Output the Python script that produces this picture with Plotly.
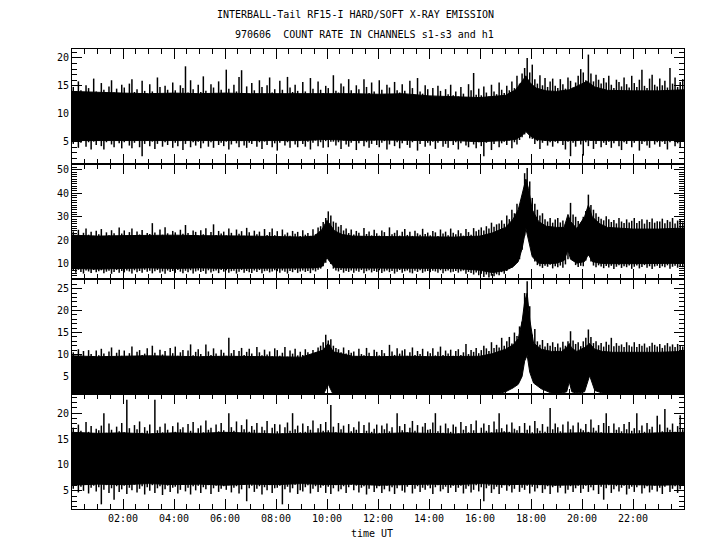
import numpy as np
import plotly.graph_objects as go

# ---------------- data (hours UT, count rates) ----------------
# Spike (local max / local min) readings on a 0.1 h grid, one row per hour
spike_t = [round(0.05 + 0.1 * k, 2) for k in range(240)]

# ---- Panel 1 : solid body (dense lower / upper edge)
p1_t = [0,1,2,3,4,5,6,7,8,9,10,11,12,13,14,15,16,17,17.4,17.65,17.8,17.95,18.2,18.6,19,19.5,19.9,20.2,20.5,21,22,23,24]
p1_hi = [14.0,13.8,13.7,13.6,13.7,13.6,13.7,13.6,13.6,13.7,13.7,13.6,13.5,13.6,13.2,13.0,12.9,13.3,14.3,15.8,16.8,15.6,14.6,14.1,14.0,14.3,15.1,15.8,14.8,14.2,14.1,14.1,14.3]
p1_lo = [5.2,5.2,5.3,5.2,5.2,5.3,5.2,5.2,5.3,5.2,5.4,5.2,5.3,5.2,5.2,5.2,5.0,5.2,5.4,6.1,6.8,6.1,5.4,5.2,5.2,5.1,5.2,5.3,5.2,5.2,5.2,5.2,5.2]
p1_peak = [
    14.8,13.5,15.8,14.2,13.1,15.1,14.6,13.4,16.3,14.0,
    13.6,15.5,14.3,13.2,14.9,16.0,13.8,14.5,13.3,15.2,
    14.7,13.4,15.4,16.2,13.9,14.4,13.1,15.9,14.1,13.6,
    15.3,14.0,13.5,16.5,14.8,13.2,15.0,14.3,13.7,15.6,
    14.2,13.3,15.1,14.6,18.5,13.8,16.0,14.4,13.5,15.2,
    13.9,16.7,14.1,13.4,15.3,14.7,13.2,15.8,14.3,13.6,
    17.9,14.5,13.3,15.2,14.0,16.6,17.8,13.7,14.9,13.4,
    15.5,14.2,13.6,16.0,14.8,13.3,15.1,16.5,13.8,14.4,
    13.5,15.9,14.3,13.1,16.6,14.7,13.9,15.2,14.1,13.4,
    15.7,14.0,13.6,16.4,14.5,13.2,15.8,14.3,13.7,15.0,
    14.6,13.3,16.9,14.1,13.8,15.4,14.9,13.5,16.2,14.2,
    13.6,15.1,14.4,13.2,16.2,14.8,13.7,15.6,14.0,13.4,
    16.0,14.3,13.5,15.2,14.7,13.1,15.7,14.2,13.8,15.3,
    14.1,13.4,15.9,14.6,13.3,16.4,14.0,13.6,15.1,14.4,
    13.2,14.6,13.0,15.0,14.1,12.9,14.4,13.5,15.2,13.3,
    14.0,13.1,14.8,13.6,13.0,15.3,14.2,17.3,13.4,14.5,
    13.3,14.9,13.8,13.1,15.2,14.0,13.5,15.6,14.3,13.7,
    15.0,14.2,15.8,14.6,16.8,15.4,17.2,18.2,20.0,17.4,
    18.8,16.2,15.4,16.9,15.1,16.4,14.8,15.8,16.3,15.0,
    14.6,16.2,15.3,14.5,16.5,15.9,14.7,15.6,16.8,18.0,
    17.4,16.0,20.6,17.2,15.8,17.0,16.1,15.4,16.4,15.6,
    16.8,15.2,14.6,16.1,15.7,14.9,16.5,15.3,14.7,16.8,
    15.5,14.8,16.1,17.9,15.0,14.6,16.3,17.0,15.2,14.9,
    16.3,15.1,15.9,14.7,18.2,15.4,16.5,14.8,15.7,16.2]
p1_dip = [
    4.6,5.2,3.9,4.8,5.3,4.1,4.9,3.6,5.0,4.4,
    5.1,4.2,3.6,4.9,5.3,4.5,4.0,5.2,4.7,3.8,
    4.9,5.3,4.3,3.8,4.8,5.2,4.0,2.4,4.6,5.1,
    4.2,5.0,3.7,4.6,5.3,4.1,4.9,4.4,5.2,3.9,
    4.8,4.2,5.1,3.5,4.6,5.3,4.0,4.9,4.3,5.0,
    3.8,4.7,5.2,4.1,4.9,3.9,5.3,4.4,4.8,4.2,
    5.0,3.6,4.5,5.2,4.7,4.0,5.1,4.3,3.9,4.8,
    4.6,5.3,4.1,4.9,3.7,5.0,4.4,5.2,4.0,4.7,
    3.4,4.8,5.2,4.3,4.9,3.9,5.1,4.5,4.0,5.3,
    4.6,4.1,5.0,3.6,4.8,5.2,4.2,4.9,3.9,5.1,
    4.0,5.0,5.0,4.3,4.9,3.7,5.2,4.5,4.1,4.8,
    5.1,3.5,4.7,5.3,4.2,4.9,3.9,4.6,5.2,4.4,
    4.0,4.8,5.1,3.6,4.5,5.3,4.2,4.9,3.8,4.7,
    5.2,4.4,3.9,4.9,5.1,3.4,4.6,5.3,4.1,4.8,
    4.3,5.0,3.7,4.8,5.2,4.1,4.6,3.9,5.1,4.4,
    4.9,3.6,4.7,5.2,4.3,4.0,5.0,4.5,3.8,4.9,
    4.2,2.4,4.8,5.1,3.5,4.6,5.2,4.0,4.7,5.0,
    4.4,5.2,3.8,4.9,4.5,5.3,5.8,6.3,6.8,5.6,
    5.5,4.6,5.1,3.7,4.8,5.2,4.3,4.9,4.1,5.0,
    4.7,5.2,4.4,3.6,5.0,2.4,4.8,4.1,5.3,4.5,
    2.5,4.9,4.2,5.1,3.7,4.6,5.2,4.0,4.8,4.4,
    5.0,3.9,4.7,5.3,4.2,3.5,4.9,4.6,5.1,4.0,
    4.8,5.2,3.4,4.6,5.0,4.3,3.9,5.2,4.5,4.9,
    4.1,5.0,4.6,3.6,4.9,5.3,4.2,4.7,3.9,5.1]

# ---- Panel 2
p2_t = [0,1,2,3,4,5,6,7,8,9,9.5,9.8,10.0,10.1,10.3,10.6,11,12,13,14,15,16,16.5,17.0,17.3,17.5,17.65,17.8,17.9,18.05,18.3,18.6,19.0,19.3,19.45,19.55,19.8,20.1,20.25,20.4,20.7,21,22,23,24]
p2_hi = [22.2,21.8,22.0,22.2,22.2,22.0,22.0,21.8,21.6,21.4,21.8,24.5,28.5,27,24,22.5,21.8,21.6,21.5,21.4,21.4,21.8,23.2,25.5,29,33,40,46,42,33,28,26,25.5,25.5,31,28,25,30,35,30,27,25.5,24.8,24.8,25.2]
p2_lo = [8.1,7.8,8.1,8.3,8.1,8.3,8.1,8.1,8.3,8.3,8.3,8.8,12.7,11,8.5,8.3,8.3,8.3,8.1,8.1,8.1,7.3,6.3,7.3,8.8,11,16.5,25,20.5,13,10.3,10.1,10.3,11.5,16,12,10.3,11,14,11,10.3,10.1,10.1,10.1,10.3]
p2_peak = [
    23.8,22.1,24.5,21.6,23.2,25.0,22.4,23.6,21.9,24.1,
    22.6,24.8,21.7,23.4,22.2,24.3,23.0,21.8,25.5,22.9,
    24.2,22.0,23.5,25.0,21.9,23.8,22.5,24.4,21.6,23.1,
    22.7,27.3,23.3,21.8,24.6,22.4,25.6,23.0,22.1,24.0,
    23.4,21.9,24.5,22.8,26.5,23.1,22.2,24.2,23.6,21.7,
    24.3,22.6,25.1,21.8,23.5,26.8,22.3,24.0,22.9,23.7,
    22.1,25.0,23.2,21.7,24.6,22.8,23.9,22.0,25.3,23.4,
    21.8,24.1,22.6,23.7,21.6,24.8,22.3,23.5,25.0,22.2,
    23.9,21.7,24.6,22.5,23.3,21.9,24.0,22.8,23.6,21.8,
    24.3,22.4,23.1,21.9,24.7,22.6,25.5,26.0,27.8,29.5,
    32.3,30.5,28.0,27.5,25.8,26.5,24.2,25.0,23.1,24.6,
    22.5,24.0,23.2,21.8,25.2,22.7,23.8,22.1,24.5,23.0,
    22.0,24.2,23.5,21.7,25.5,22.6,23.2,24.3,22.0,23.7,
    24.8,22.3,23.6,21.9,24.1,23.0,22.4,24.9,22.7,23.3,
    22.1,24.0,23.4,21.8,24.6,22.9,23.7,22.2,25.0,23.2,
    22.6,24.3,23.0,22.0,24.8,23.5,22.4,25.2,23.9,24.5,
    25.5,24.2,26.0,25.0,27.5,25.8,26.8,27.2,28.5,27.0,
    30.5,29.0,33.0,31.5,35.5,34.0,38.0,48.5,50.7,45.0,
    38.0,35.5,33.0,30.5,31.5,29.0,28.0,29.5,27.5,28.8,
    29.5,27.6,28.4,27.0,29.2,35.9,31.0,30.0,28.2,27.5,
    30.0,32.5,39.4,35.0,33.0,31.5,30.0,29.2,28.5,30.2,
    29.0,27.8,28.6,27.2,29.5,28.0,27.4,28.9,27.6,28.3,
    29.5,27.4,28.2,29.0,27.1,28.7,27.8,29.3,27.5,28.1,
    28.0,29.2,27.3,28.6,27.9,29.5,27.2,28.4,28.9,27.6]
p2_dip = [
    7.0,6.2,7.5,6.6,5.9,7.2,6.8,6.1,7.4,6.5,
    6.9,7.3,6.0,6.7,7.1,5.8,6.6,7.4,6.3,7.0,
    6.4,7.2,6.8,5.9,7.3,6.5,7.0,6.2,7.5,6.7,
    7.1,6.0,6.9,7.4,6.3,6.8,5.8,7.2,6.6,7.0,
    6.2,7.4,6.7,6.0,7.1,6.5,7.3,5.9,6.8,7.2,
    6.6,7.0,5.8,7.3,6.4,6.9,7.2,6.1,7.4,6.7,
    7.3,6.3,6.9,7.1,5.9,6.7,7.4,6.2,7.0,6.5,
    6.1,7.2,6.6,7.4,6.0,6.9,7.1,6.4,6.8,7.3,
    6.9,6.3,7.2,6.7,5.9,7.0,6.5,7.4,6.2,6.8,
    7.2,6.6,7.0,6.1,7.3,6.8,7.5,8.0,9.0,10.5,
    12.0,10.0,8.0,7.2,6.8,7.4,6.3,7.0,6.6,7.2,
    6.2,7.1,6.7,7.4,6.0,6.9,7.3,6.4,7.0,6.6,
    7.3,6.1,6.8,7.2,6.5,7.0,5.9,6.7,7.4,6.3,
    6.9,7.2,6.4,6.0,7.1,6.6,7.3,6.2,6.8,7.0,
    6.5,7.1,6.8,6.2,7.3,6.0,6.9,7.2,6.4,6.7,
    7.0,6.3,6.9,7.2,5.8,6.6,6.1,5.5,6.4,5.2,
    5.8,4.5,5.5,4.2,5.0,4.8,5.6,5.2,6.5,5.8,
    7.0,7.8,8.5,9.5,10.5,12.0,16.0,22.0,26.0,20.0,
    14.0,11.0,9.5,9.0,8.3,9.2,8.8,9.6,8.1,9.0,
    8.6,9.3,8.4,9.8,12.0,17.0,12.0,9.5,8.7,9.2,
    9.0,11.5,13.5,11.0,9.3,8.6,9.4,8.9,8.2,9.1,
    8.5,9.2,7.8,8.8,9.4,8.3,9.0,8.6,9.3,7.9,
    8.8,9.3,8.1,8.7,9.5,8.4,9.0,7.8,8.9,9.2,
    8.3,9.0,8.6,9.4,7.9,8.8,9.2,8.4,9.0,8.6]

# ---- Panel 3
p3_t = [0,1,2,3,4,5,6,7,8,9,9.85,10.05,10.25,11,12,13,14,15,16,16.5,17.0,17.3,17.5,17.65,17.75,17.85,17.95,18.1,18.4,18.8,19.2,19.4,19.5,19.6,19.8,20.1,20.3,20.5,20.8,21.2,22,23,24]
p3_hi = [9.7,9.5,9.6,9.7,9.6,9.5,9.6,9.5,9.5,9.4,11.0,12.5,10.6,9.6,9.5,9.6,9.5,9.5,9.6,10.2,11.2,12.2,13.6,17.5,22,24,18,12.6,11.2,10.7,10.7,11.6,12.5,11.4,10.7,11.6,12.5,11.2,10.7,10.5,10.5,10.5,10.7]
p3_lo = [0.5,0.5,0.5,0.5,0.5,0.5,0.5,0.5,0.5,0.5,0.8,3.2,0.8,0.5,0.5,0.5,0.5,0.5,0.6,0.8,1.5,2.4,3.2,5.0,8.5,9.8,6.0,3.5,2.2,1.2,1.2,1.5,3.8,1.5,1.2,1.5,5.2,1.8,1.2,0.8,0.8,0.8,0.8]
p3_peak = [
    10.5,9.4,11.2,9.8,10.8,9.2,11.0,10.1,9.6,10.9,
    9.8,11.3,10.2,9.3,10.7,11.6,9.5,10.4,11.1,9.7,
    10.9,9.6,10.3,11.8,9.4,10.6,11.0,9.9,10.2,11.4,
    9.5,12.0,10.4,9.7,11.1,10.0,10.8,9.3,11.5,10.3,
    11.8,9.7,10.5,11.0,9.4,10.9,12.3,9.8,10.6,11.2,
    10.1,9.5,12.3,10.7,9.9,11.4,10.2,9.6,11.1,10.4,
    9.7,13.8,10.3,11.0,9.5,10.8,11.5,9.9,10.6,11.3,
    10.2,9.4,11.7,10.5,9.8,11.1,10.0,10.7,9.6,11.4,
    11.0,9.7,10.4,11.7,9.5,10.9,10.2,11.3,9.8,10.6,
    9.9,11.2,10.5,9.6,11.0,10.3,11.6,12.0,12.8,14.5,
    13.2,13.5,12.0,11.5,11.2,10.5,11.6,10.2,11.0,10.4,
    10.7,9.6,11.3,10.1,9.8,11.5,10.4,9.5,11.1,10.6,
    9.8,11.0,10.3,9.6,12.2,10.7,9.9,11.4,10.2,10.9,
    11.2,9.7,10.5,11.6,9.9,10.8,10.1,11.3,9.6,10.7,
    10.3,11.4,9.8,10.6,11.8,9.9,10.9,10.2,11.1,9.7,
    10.8,11.2,9.9,10.5,12.4,10.1,11.0,10.6,11.5,10.3,
    11.0,12.0,11.4,10.8,12.8,11.5,12.2,11.6,13.8,12.0,
    13.0,14.0,12.5,15.0,14.2,16.4,17.5,24.0,26.7,21.0,
    14.5,15.8,13.0,12.2,13.3,11.8,12.6,12.0,12.8,11.7,
    12.5,11.6,12.9,12.0,13.0,15.3,13.2,12.4,12.8,11.9,
    13.0,13.8,15.7,14.0,12.6,13.0,12.1,12.6,11.8,12.9,
    12.2,13.8,11.9,12.6,12.0,12.3,11.7,12.8,12.1,11.8,
    12.8,11.7,12.4,12.0,12.5,11.6,11.9,12.7,12.2,11.8,
    12.4,11.5,12.1,12.6,11.8,12.3,11.7,12.4,12.0,11.8]
p3_dip = []

# ---- Panel 4
p4_t = list(range(0, 25))
p4_hi = [16.3,16.1,16.2,16.0,16.2,16.1,16.3,16.2,16.0,16.1,16.2,16.1,16.0,16.2,16.1,16.0,16.1,16.2,16.0,16.1,16.2,16.1,16.0,16.2,16.3]
p4_lo = [6.1,6.3,6.2,6.4,6.2,6.3,6.1,6.3,6.2,6.4,6.2,6.3,6.1,6.2,6.3,6.2,6.4,6.2,6.3,6.1,6.2,6.3,6.2,6.1,6.2]
p4_peak = [
    17.2,16.1,17.8,16.6,15.9,18.3,16.4,17.5,16.0,17.0,
    16.7,17.6,20.0,16.2,18.0,16.8,15.9,17.4,16.5,18.1,
    16.3,22.6,17.1,16.0,17.7,16.9,18.4,16.2,17.3,16.6,
    17.8,16.1,22.6,16.7,17.4,16.3,18.0,16.8,15.9,17.5,
    16.4,18.2,16.9,17.3,16.0,17.9,16.6,18.3,16.2,17.1,
    17.6,16.3,18.6,16.8,17.2,16.0,17.8,16.5,18.1,16.7,
    16.2,20.0,17.3,16.6,18.4,16.1,17.7,16.9,18.8,16.4,
    17.5,16.8,18.1,16.2,17.4,16.7,18.5,16.0,17.2,17.9,
    16.5,17.8,16.1,17.3,18.2,16.6,20.0,16.9,17.6,16.3,
    18.0,16.4,17.5,16.8,18.6,16.2,17.1,17.9,16.6,18.3,
    16.7,21.6,17.4,16.3,18.1,16.9,17.6,16.1,17.9,16.5,
    17.3,16.8,18.4,16.0,17.7,16.6,18.2,16.4,17.0,17.8,
    16.2,17.6,16.9,18.0,16.5,17.3,16.1,20.0,17.5,16.7,
    17.9,16.3,17.2,18.5,16.6,17.7,16.0,17.4,18.1,16.8,
    16.9,18.2,20.0,16.5,17.6,16.2,18.0,17.1,16.4,17.8,
    17.4,16.1,18.3,16.8,17.5,16.3,17.9,16.7,18.6,16.0,
    17.2,18.0,16.6,17.7,16.3,18.4,16.9,20.0,17.1,16.5,
    17.8,16.4,18.2,17.0,16.7,17.5,16.2,18.1,16.8,17.6,
    16.3,18.5,17.1,16.6,17.9,16.4,17.4,21.0,16.9,18.0,
    17.3,16.5,17.8,16.2,18.4,16.9,17.6,16.1,18.2,17.0,
    16.7,17.9,16.4,18.8,17.2,16.6,17.7,16.3,18.1,20.0,
    17.5,16.2,18.0,16.8,17.3,16.5,17.9,16.9,18.3,16.6,
    17.1,20.0,16.7,17.6,16.4,18.1,16.9,17.4,16.2,19.5,
    17.8,16.5,20.8,17.2,16.8,18.0,16.4,17.5,19.6,16.9]
p4_dip = [
    5.4,6.1,4.7,5.8,5.0,6.2,4.5,5.6,6.0,4.9,
    5.7,2.4,5.2,6.1,4.6,5.5,3.3,5.9,4.8,5.3,
    6.0,4.4,5.6,5.1,6.2,4.7,5.4,5.9,4.3,5.7,
    5.0,6.1,4.6,5.5,5.9,4.2,5.3,6.0,4.8,5.6,
    5.8,4.5,5.2,6.2,4.9,5.6,4.3,5.9,5.1,6.0,
    4.6,5.7,5.3,6.1,4.4,5.5,6.0,4.8,5.4,5.9,
    5.2,6.1,4.7,5.6,5.9,4.5,5.3,6.2,3.0,5.5,
    6.0,4.8,5.4,5.9,4.3,5.7,5.1,6.1,4.6,5.5,
    5.6,6.0,2.4,5.3,5.8,4.7,5.5,6.2,4.4,5.1,
    4.9,5.7,6.1,4.5,5.4,5.9,4.8,5.6,6.0,4.6,
    5.8,4.4,5.5,6.1,4.9,5.3,5.9,4.6,5.7,6.2,
    5.1,6.0,4.7,5.6,5.9,4.3,5.4,6.1,4.8,5.5,
    5.9,4.6,5.3,6.0,4.9,5.7,4.4,5.5,6.1,5.0,
    4.7,5.8,6.2,4.5,5.4,5.9,4.8,5.6,5.2,6.0,
    5.5,4.4,5.7,6.1,4.9,5.3,5.8,4.6,5.6,6.0,
    4.8,5.6,6.0,4.5,5.4,5.9,4.7,5.2,6.1,4.9,
    5.7,3.0,5.5,6.0,4.6,5.3,5.8,4.4,5.6,6.1,
    5.0,5.9,4.7,5.4,6.2,4.8,5.6,5.2,6.0,4.5,
    5.8,4.9,5.5,6.1,4.6,5.3,5.9,4.4,5.7,6.0,
    4.7,5.6,6.1,4.5,5.2,5.9,4.8,5.5,6.0,4.6,
    5.4,6.0,4.8,5.7,5.1,6.2,4.4,5.8,3.3,5.5,
    6.1,4.6,5.3,5.9,4.9,5.6,6.0,4.3,5.4,5.8,
    4.8,5.7,6.1,4.5,5.5,5.9,4.7,5.2,6.0,4.9,
    5.6,4.4,5.8,6.2,4.8,5.4,5.9,4.6,5.3,6.1]

x_tick_vals = [2, 4, 6, 8, 10, 12, 14, 16, 18, 20, 22]
x_tick_text = ["02:00", "04:00", "06:00", "08:00", "10:00", "12:00", "14:00", "16:00", "18:00", "20:00", "22:00"]

panels = [
    dict(t=p1_t, hi=p1_hi, lo=p1_lo, up=p1_peak, dn=p1_dip, yr=[1.0, 21.6], yt=[5, 10, 15, 20]),
    dict(t=p2_t, hi=p2_hi, lo=p2_lo, up=p2_peak, dn=p2_dip, yr=[3.6, 52.4], yt=[10, 20, 30, 40, 50]),
    dict(t=p3_t, hi=p3_hi, lo=p3_lo, up=p3_peak, dn=p3_dip, yr=[1.0, 27.2], yt=[5, 10, 15, 20, 25]),
    dict(t=p4_t, hi=p4_hi, lo=p4_lo, up=p4_peak, dn=p4_dip, yr=[1.5, 23.7], yt=[5, 10, 15, 20]),
]

# ---------------- layout geometry (page pixels; the page has an 8px body margin) ----------------
W, H = 720, 550
OFF = 8
x0, x1 = 72, 684
tops = [49, 164, 279, 394]
bots = [164, 279, 394, 509]
FONT = "DejaVu Sans Mono"

def px(x):
    return (x - OFF) / W

def py(y):
    return 1 - (y - OFF) / H

fig = go.Figure()
layout = {}
for i, p in enumerate(panels):
    n = i + 1
    xa = "x" if n == 1 else f"x{n}"
    ya = "y" if n == 1 else f"y{n}"
    fig.add_trace(go.Scatter(x=p["t"], y=p["lo"], xaxis=xa, yaxis=ya, mode="lines",
                             line=dict(color="black", width=1), showlegend=False, hoverinfo="skip"))
    fig.add_trace(go.Scatter(x=p["t"], y=p["hi"], xaxis=xa, yaxis=ya, mode="lines",
                             fill="tonexty", fillcolor="black",
                             line=dict(color="black", width=1), showlegend=False, hoverinfo="skip"))
    mid = (np.array(p["hi"]) + np.array(p["lo"])) / 2.0
    for vals in (p["up"], p["dn"]):
        if not vals:
            continue
        base = np.interp(spike_t, p["t"], mid)
        sx, sy = [], []
        for t, b, v in zip(spike_t, base, vals):
            sx += [t, t, None]
            sy += [float(b), v, None]
        fig.add_trace(go.Scatter(x=sx, y=sy, xaxis=xa, yaxis=ya, mode="lines",
                                 line=dict(color="black", width=1.5), showlegend=False,
                                 hoverinfo="skip"))
    layout["xaxis" if n == 1 else f"xaxis{n}"] = dict(
        domain=[px(x0), px(x1)], anchor=ya, range=[0, 24],
        tickmode="array", tickvals=x_tick_vals, ticktext=x_tick_text,
        showticklabels=(n == 4), ticks="inside", ticklen=10, tickwidth=1, tickcolor="black",
        minor=dict(tickmode="linear", tick0=0, dtick=0.5, ticks="inside", ticklen=5,
                   tickcolor="black", tickwidth=1, showgrid=False),
        showline=True, linecolor="black", linewidth=1, mirror="allticks",
        showgrid=False, zeroline=False, fixedrange=True,
        tickfont=dict(family=FONT, size=10, color="black"),
    )
    layout["yaxis" if n == 1 else f"yaxis{n}"] = dict(
        domain=[py(bots[i]), py(tops[i])], anchor=xa, range=p["yr"],
        tickmode="array", tickvals=p["yt"],
        ticks="inside", ticklen=10, tickwidth=1, tickcolor="black",
        minor=dict(tickmode="linear", tick0=0, dtick=1, ticks="inside", ticklen=5,
                   tickcolor="black", tickwidth=1, showgrid=False),
        showline=True, linecolor="black", linewidth=1, mirror="allticks",
        showgrid=False, zeroline=False, fixedrange=True,
        tickfont=dict(family=FONT, size=10, color="black"),
    )

fig.update_layout(
    width=W, height=H, margin=dict(l=0, r=0, t=0, b=0),
    paper_bgcolor="white", plot_bgcolor="white", showlegend=False,
    font=dict(family=FONT, size=10, color="black"),
    annotations=[
        dict(text="INTERBALL-Tail RF15-I HARD/SOFT X-RAY EMISSION", x=px(215), y=py(15),
             xref="paper", yref="paper", xanchor="left", yanchor="middle", showarrow=False,
             font=dict(family=FONT, size=10, color="black")),
        dict(text="970606  COUNT RATE IN CHANNELS s1-s3 and h1", x=px(233), y=py(35),
             xref="paper", yref="paper", xanchor="left", yanchor="middle", showarrow=False,
             font=dict(family=FONT, size=10, color="black")),
        dict(text="time UT", x=px(372), y=py(533),
             xref="paper", yref="paper", xanchor="center", yanchor="middle", showarrow=False,
             font=dict(family=FONT, size=10, color="black")),
    ],
    **layout,
)

fig.write_html("out.html")
